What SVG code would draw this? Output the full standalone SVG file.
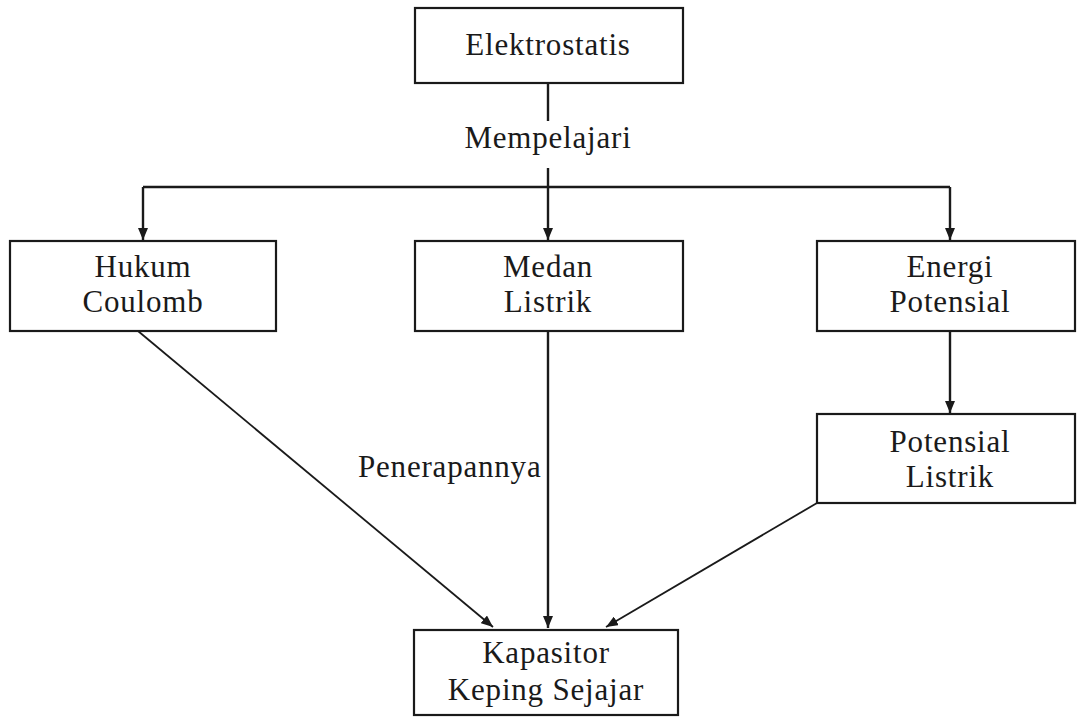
<svg xmlns="http://www.w3.org/2000/svg" width="1082" height="718" viewBox="0 0 1082 718">
<defs>
<marker id="ah" viewBox="0 0 12 10" refX="12" refY="5" markerWidth="12" markerHeight="10" markerUnits="userSpaceOnUse" orient="auto">
<path d="M0,0 L12,5 L0,10 Z" fill="#1a1a1a"/>
</marker>
</defs>
<style>
.box{fill:#fff;stroke:#1a1a1a;stroke-width:2.2}
.t{font-family:"Liberation Serif","DejaVu Serif",serif;font-size:31px;letter-spacing:0.8px;fill:#1a1a1a;text-anchor:middle}
.c{stroke:#1a1a1a;stroke-width:2.4;fill:none}
.d{stroke:#1a1a1a;stroke-width:1.8;fill:none}
</style>
<rect width="1082" height="718" fill="#fff"/>
<g id="connectors">
<line class="c" x1="548" y1="83" x2="548" y2="121"/>
<polyline class="c" points="548,168 548,187"/>
<polyline class="c" points="143,187 950,187"/>
<line class="c" x1="143" y1="187" x2="143" y2="240" marker-end="url(#ah)"/>
<line class="c" x1="548" y1="187" x2="548" y2="240" marker-end="url(#ah)"/>
<line class="c" x1="950" y1="187" x2="950" y2="240" marker-end="url(#ah)"/>
<line class="c" x1="950" y1="331" x2="950" y2="413" marker-end="url(#ah)"/>
<line class="c" x1="548" y1="331" x2="548" y2="628" marker-end="url(#ah)"/>
<line class="d" x1="138" y1="331" x2="493" y2="627" marker-end="url(#ah)"/>
<line class="d" x1="817" y1="503" x2="606" y2="627" marker-end="url(#ah)"/>
<text class="t" x="548" y="148">Mempelajari</text>
<text class="t" x="358" y="477" style="text-anchor:start">Penerapannya</text>
</g>
<g id="elektrostatis">
<rect class="box" x="415" y="8" width="268" height="75"/>
<text class="t" x="548" y="55">Elektrostatis</text>
</g>
<g id="hukum-coulomb">
<rect class="box" x="10" y="241" width="266" height="90"/>
<text class="t" x="143" y="277">Hukum</text>
<text class="t" x="143" y="312">Coulomb</text>
</g>
<g id="medan-listrik">
<rect class="box" x="415" y="241" width="268" height="90"/>
<text class="t" x="548" y="277">Medan</text>
<text class="t" x="548" y="312">Listrik</text>
</g>
<g id="energi-potensial">
<rect class="box" x="817" y="241" width="258" height="90"/>
<text class="t" x="950" y="277">Energi</text>
<text class="t" x="950" y="312">Potensial</text>
</g>
<g id="potensial-listrik">
<rect class="box" x="817" y="414" width="258" height="89"/>
<text class="t" x="950" y="452">Potensial</text>
<text class="t" x="950" y="487">Listrik</text>
</g>
<g id="kapasitor">
<rect class="box" x="414" y="630" width="264" height="85"/>
<text class="t" x="546" y="663">Kapasitor</text>
<text class="t" x="546" y="700">Keping Sejajar</text>
</g>
</svg>
